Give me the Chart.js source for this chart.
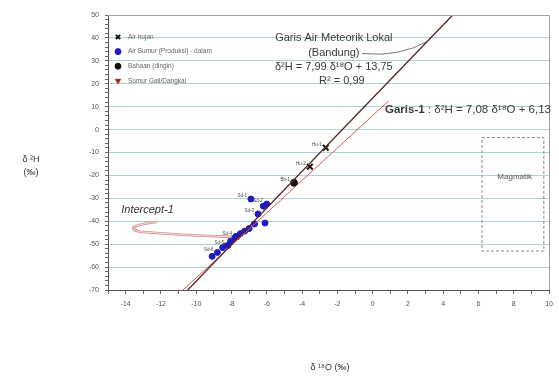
<!DOCTYPE html>
<html>
<head>
<meta charset="utf-8">
<script src="https://cdn.jsdelivr.net/npm/chart.js@4.4.1/dist/chart.umd.min.js"></script>
<style>
  html, body { margin: 0; padding: 0; background: #fff; }
  #wrap { width: 559px; height: 378px; }
</style>
</head>
<body>
<div id="wrap"><canvas id="chart" width="559" height="378"></canvas></div>
<script>
// δ18O (x) vs δ2H (y), per mille
const airHujanO = [-2.66, -3.56];
const airHujanH = [-7.9, -16.2];
const airHujanLabels = ['Hu-1', 'Hu-2'];

const bahaanO = [-4.46];
const bahaanH = [-23.2];
const bahaanLabels = ['Bh-1'];

const sumurDalamO = [-6.9, -6.0, -6.2, -6.5, -6.1, -6.7, -7.0, -7.25, -7.5, -7.75, -7.9, -8.05, -8.2, -8.5, -8.8, -9.1];
const sumurDalamH = [-30.3, -32.5, -33.4, -36.8, -40.8, -41.2, -43.2, -44.3, -45.4, -46.6, -47.6, -48.6, -50.6, -51.5, -53.6, -55.3];
const sumurDalamLabels = ['Sd-1', 'Sd-2', '', 'Sd-3', '', '', '', '', '', 'Sd-4', '', '', 'Sd-5', '', 'Sd-6', ''];

const sumurGaliO = [-7.6, -8.3];
const sumurGaliH = [-46.8, -50.2];

// regression lines: δ2H = slope * δ18O + intercept
const lokalSlope = 7.99, lokalIntercept = 13.75;
const lokalRangeO = [-10.48, 4.54];
const garis1Slope = 7.08, garis1Intercept = 6.13;
const garis1RangeO = [-10.75, 0.9];

const xTickLabels = [-14, -12, -10, -8, -6, -4, -2, 0, 2, 4, 6, 8, 10];
const yTickLabels = [50, 40, 30, 20, 10, 0, -10, -20, -30, -40, -50, -60, -70];
const legendOrder = ['Air hujan', 'Air Sumur (Produksi) - dalam', 'Bahaan (dingin)', 'Sumur Gali/Dangkal'];

const pts = (xs, ys) => xs.map((v, i) => ({ x: v, y: ys[i] }));
const linePts = (range, m, c) => range.map(v => ({ x: v, y: m * v + c }));

const FONT = '"Liberation Sans", Arial, sans-serif';

const decorations = {
  id: 'decorations',
  afterDraw(chart) {
    const { ctx, chartArea: a, scales: { x, y } } = chart;
    const X = v => x.getPixelForValue(v);
    const Y = v => y.getPixelForValue(v);
    ctx.save();

    // frame on top and right
    ctx.strokeStyle = '#a0a0a0';
    ctx.lineWidth = 1;
    ctx.beginPath();
    ctx.moveTo(a.left, Math.round(a.top) + 0.5);
    ctx.lineTo(Math.round(a.right) + 0.5, Math.round(a.top) + 0.5);
    ctx.lineTo(Math.round(a.right) + 0.5, a.bottom);
    ctx.stroke();

    // magmatic water field
    ctx.setLineDash([3, 2]);
    ctx.strokeStyle = '#8a8a8a';
    ctx.strokeRect(X(6.2), Y(-3.5), X(9.7) - X(6.2), Y(-53) - Y(-3.5));
    ctx.setLineDash([]);
    ctx.fillStyle = '#555';
    ctx.font = '8px ' + FONT;
    ctx.textAlign = 'center';
    ctx.textBaseline = 'middle';
    ctx.fillText('Magmatik', X(8.05), Y(-20.5));

    // local meteoric line caption
    ctx.fillStyle = '#3a3a3a';
    ctx.font = '11px ' + FONT;
    const cx = X(-2.2);
    ctx.fillText('Garis Air Meteorik Lokal', cx, Y(40));
    ctx.fillText('(Bandung)', cx, Y(33.4));
    ctx.fillText('δ²H = 7,99 δ¹⁸O + 13,75', cx, Y(27.2));
    ctx.fillText('R² = 0,99', cx + 8, Y(21.3));

    // pointer to the line
    ctx.strokeStyle = '#555';
    ctx.lineWidth = 0.8;
    ctx.beginPath();
    ctx.moveTo(X(-0.6), Y(33.2));
    ctx.quadraticCurveTo(X(1.5), Y(31.5), X(3.1), Y(38.5));
    ctx.stroke();

    // Garis-1 caption
    ctx.textAlign = 'left';
    ctx.font = 'bold 11.5px ' + FONT;
    const g1x = X(0.7), g1y = Y(8.5);
    ctx.fillStyle = '#3a3a3a';
    ctx.fillText('Garis-1', g1x, g1y);
    const w1 = ctx.measureText('Garis-1').width;
    ctx.font = '11.5px ' + FONT;
    ctx.fillText(' : δ²H = 7,08 δ¹⁸O + 6,13', g1x + w1, g1y);

    // Intercept-1 label and its pointer
    ctx.font = 'italic 11px ' + FONT;
    ctx.fillStyle = '#333';
    ctx.fillText('Intercept-1', X(-14.25), Y(-35.2));
    ctx.beginPath();
    ctx.moveTo(X(-12.2), Y(-40.2));
    ctx.quadraticCurveTo(X(-14.3), Y(-42.4), X(-13.2), Y(-44.6));
    ctx.quadraticCurveTo(X(-10.5), Y(-46.3), X(-8.0), Y(-46.8));
    ctx.strokeStyle = '#cf8f8f';
    ctx.lineWidth = 2.6;
    ctx.stroke();
    ctx.strokeStyle = '#f8e8e8';
    ctx.lineWidth = 0.9;
    ctx.stroke();

    // small sample labels
    ctx.font = '4.5px ' + FONT;
    ctx.fillStyle = '#444';
    ctx.textAlign = 'right';
    const tag = (xs, ys, labels) => xs.forEach((v, i) => {
      if (labels[i]) ctx.fillText(labels[i], X(v) - 4, Y(ys[i]) - 3);
    });
    tag(airHujanO, airHujanH, airHujanLabels);
    tag(bahaanO, bahaanH, bahaanLabels);
    tag(sumurDalamO, sumurDalamH, sumurDalamLabels);

    // legend inside the plot
    const items = legendOrder.map(name => chart.data.datasets.find(d => d.label === name));
    ctx.font = '6.5px ' + FONT;
    ctx.textAlign = 'left';
    items.forEach((d, i) => {
      const ly = a.top + 22 + i * 14.6;
      ctx.fillStyle = d.backgroundColor;
      ctx.strokeStyle = d.borderColor;
      ctx.lineWidth = d.borderWidth || 1;
      Chart.helpers.drawPoint(ctx, {
        pointStyle: d.pointStyle, radius: 3, rotation: d.rotation || 0, borderWidth: d.borderWidth || 1
      }, a.left + 10, ly);
      ctx.fillStyle = '#666';
      ctx.fillText(d.label, a.left + 20, ly);
    });

    // axis titles
    ctx.fillStyle = '#333';
    ctx.font = '9px ' + FONT;
    ctx.textAlign = 'center';
    ctx.fillText('δ ²H', 31, 160);
    ctx.fillText('(‰)', 31, 173);
    ctx.fillText('δ ¹⁸O (‰)', 330, 368);

    ctx.restore();
  }
};

new Chart(document.getElementById('chart'), {
  type: 'scatter',
  data: {
    datasets: [
      {
        label: 'Garis Air Meteorik Lokal',
        data: linePts(lokalRangeO, lokalSlope, lokalIntercept),
        showLine: true, pointRadius: 0, borderColor: '#5a2222', borderWidth: 1.3
      },
      {
        label: 'Garis-1',
        data: linePts(garis1RangeO, garis1Slope, garis1Intercept),
        showLine: true, pointRadius: 0, borderColor: '#d65a5a', borderWidth: 1
      },
      {
        label: 'Air Sumur (Produksi) - dalam',
        data: pts(sumurDalamO, sumurDalamH),
        pointStyle: 'circle', pointRadius: 3, backgroundColor: '#1c1cc0', borderColor: '#1c1cc0', borderWidth: 1
      },
      {
        label: 'Sumur Gali/Dangkal',
        data: pts(sumurGaliO, sumurGaliH),
        pointStyle: 'triangle', rotation: 180, pointRotation: 180, pointRadius: 3,
        backgroundColor: '#9c2a2a', borderColor: '#9c2a2a', borderWidth: 1
      },
      {
        label: 'Bahaan (dingin)',
        data: pts(bahaanO, bahaanH),
        pointStyle: 'circle', pointRadius: 3.5, backgroundColor: '#111', borderColor: '#111', borderWidth: 1
      },
      {
        label: 'Air hujan',
        data: pts(airHujanO, airHujanH),
        pointStyle: 'crossRot', pointRadius: 4, backgroundColor: '#111', borderColor: '#111', borderWidth: 2
      }
    ]
  },
  options: {
    responsive: false,
    animation: false,
    devicePixelRatio: 1,
    layout: { padding: { top: 15, right: 6, left: 0, bottom: 0 } },
    plugins: { legend: { display: false }, tooltip: { enabled: false } },
    scales: {
      x: {
        type: 'linear', min: -15, max: 10,
        afterFit: s => { s.height = 88; },
        border: { display: true, color: '#555', width: 1 },
        grid: { drawOnChartArea: false, drawTicks: true, tickLength: 4, tickColor: '#666' },
        ticks: {
          stepSize: 1, autoSkip: false, maxRotation: 0, padding: 6,
          color: '#555', font: { family: FONT, size: 7 },
          callback: v => xTickLabels.includes(v) ? String(v) : ''
        }
      },
      y: {
        type: 'linear', min: -70, max: 50,
        afterFit: s => { s.width = 108; },
        border: { display: true, color: '#555', width: 1 },
        grid: {
          color: c => (c.tick && c.tick.value % 10 === 0 && c.tick.value > -70 && c.tick.value < 50) ? '#a9d6d2' : 'rgba(0,0,0,0)',
          lineWidth: 1, drawTicks: true, tickLength: 3, tickColor: '#666'
        },
        ticks: {
          stepSize: 2, autoSkip: false, padding: 6,
          color: '#555', font: { family: FONT, size: 7 },
          callback: v => yTickLabels.includes(v) ? String(v) : ''
        }
      }
    }
  },
  plugins: [decorations]
});
</script>
</body>
</html>
